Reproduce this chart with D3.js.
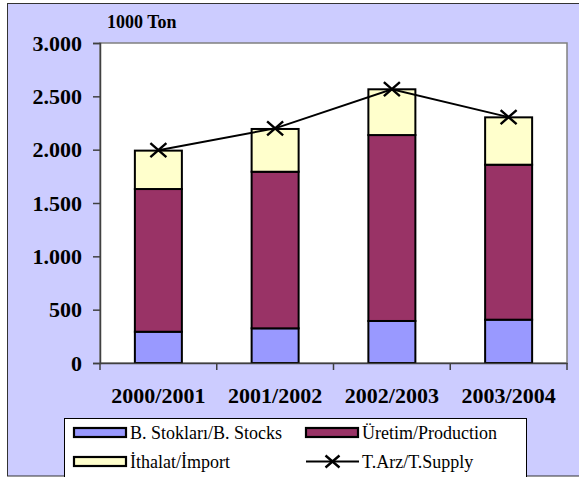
<!DOCTYPE html>
<html>
<head>
<meta charset="utf-8">
<script src="https://cdn.jsdelivr.net/npm/d3@7"></script>
<style>
  body { margin: 0; background: #fff; }
  svg text { font-family: "Liberation Serif", "Times New Roman", serif; }
</style>
</head>
<body>
<div class="canvas"></div>
<script>
const years = ['2000/2001', '2001/2002', '2002/2003', '2003/2004'];
const stocks = [293, 325, 394, 406];
const production = [1338, 1468, 1743, 1453];
const imports = [360, 401, 429, 444];
const supply = [1995, 2200, 2567, 2305];
const yTicks = [0, 500, 1000, 1500, 2000, 2500, 3000];

const seriesNames = ['B. Stokları/B. Stocks', 'Üretim/Production', 'İthalat/İmport'];
const colours = ['#9999ff', '#993366', '#ffffcc'];

const dims = { width: 579, height: 477 };
const plot = { left: 100, right: 567, top: 43, bottom: 363 };
const serif = '"Liberation Serif", "Times New Roman", serif';

const svg = d3.select('.canvas').append('svg')
  .attr('width', dims.width)
  .attr('height', dims.height);

// outer chart area
svg.append('rect')
  .attr('x', 7.5).attr('y', 3.5)
  .attr('width', 580).attr('height', 472.5)
  .attr('fill', '#ccccff')
  .attr('stroke', '#333')
  .attr('stroke-width', 1);

// plot area
svg.append('rect')
  .attr('x', plot.left).attr('y', plot.top)
  .attr('width', plot.right - plot.left).attr('height', plot.bottom - plot.top)
  .attr('fill', '#fff')
  .attr('stroke', '#808080')
  .attr('stroke-width', 1.5);

const xOuter = d3.scaleBand().domain(years).range([plot.left, plot.right]);
const y = d3.scaleLinear().domain([0, 3000]).range([plot.bottom, plot.top]);

// stack the three series
const table = years.map((yr, i) => ({ year: yr, s0: stocks[i], s1: production[i], s2: imports[i] }));
const stack = d3.stack().keys(['s0', 's1', 's2']);
const layers = stack(table);

const layerG = svg.selectAll('g.layer')
  .data(layers)
  .enter().append('g')
  .attr('class', 'layer')
  .attr('fill', (d, i) => colours[i]);

layerG.selectAll('rect')
  .data(d => d)
  .enter().append('rect')
  .attr('x', d => xOuter(d.data.year) + (xOuter.bandwidth() - 47) / 2)
  .attr('width', 47)
  .attr('y', d => y(d[1]))
  .attr('height', d => y(d[0]) - y(d[1]))
  .attr('stroke', '#000')
  .attr('stroke-width', 2);

// y axis
const yAxis = d3.axisLeft(y)
  .tickValues(yTicks)
  .tickSize(7)
  .tickPadding(11)
  .tickFormat(d => d3.format(',')(d).replace(/,/g, '.'));

const yG = svg.append('g')
  .attr('transform', `translate(${plot.left},0)`)
  .call(yAxis);
yG.attr('font-family', null);
yG.select('.domain').attr('stroke', '#404040').attr('stroke-width', 1.5);
yG.selectAll('.tick line').attr('stroke', '#404040').attr('stroke-width', 1.5);
yG.selectAll('text')
  .attr('font-size', 22)
  .attr('font-weight', 'bold')
  .attr('fill', '#000')
  .style('font-family', serif);

// x axis
const xAxis = d3.axisBottom(xOuter).tickSize(0).tickPadding(24);
const xG = svg.append('g')
  .attr('transform', `translate(0,${plot.bottom})`)
  .call(xAxis);
xG.attr('font-family', null);
xG.select('.domain').attr('stroke', '#404040').attr('stroke-width', 1.5);
xG.selectAll('text')
  .attr('font-size', 22)
  .attr('font-weight', 'bold')
  .attr('fill', '#000')
  .style('font-family', serif);

// x tick marks at band edges
const edges = years.map(yr => xOuter(yr)).concat([plot.right]);
svg.selectAll('line.xtick')
  .data(edges)
  .enter().append('line')
  .attr('class', 'xtick')
  .attr('x1', d => d).attr('x2', d => d)
  .attr('y1', plot.bottom).attr('y2', plot.bottom + 7)
  .attr('stroke', '#404040')
  .attr('stroke-width', 1.5);

// supply line
const lineGen = d3.line()
  .x((d, i) => xOuter(years[i]) + xOuter.bandwidth() / 2)
  .y(d => y(d));

svg.append('path')
  .datum(supply)
  .attr('d', lineGen)
  .attr('fill', 'none')
  .attr('stroke', '#000')
  .attr('stroke-width', 2);

const cross = (g, cx, cy, rx, ry) => {
  g.append('path')
    .attr('d', `M${cx - rx},${cy - ry}L${cx + rx},${cy + ry}M${cx - rx},${cy + ry}L${cx + rx},${cy - ry}`)
    .attr('stroke', '#000')
    .attr('stroke-width', 2.4)
    .attr('fill', 'none');
};

supply.forEach((v, i) => {
  cross(svg, xOuter(years[i]) + xOuter.bandwidth() / 2, y(v), 8, 7);
});

// unit label
svg.append('text')
  .attr('x', 107).attr('y', 27.5)
  .attr('font-size', 18)
  .attr('font-weight', 'bold')
  .text('1000 Ton');

// legend
const legend = svg.append('g');
legend.append('rect')
  .attr('x', 64.5).attr('y', 418.5)
  .attr('width', 462).attr('height', 70)
  .attr('fill', '#fff')
  .attr('stroke', '#000')
  .attr('stroke-width', 1);

const legendItems = [
  { name: seriesNames[0], col: 0, row: 0, colour: colours[0] },
  { name: seriesNames[1], col: 1, row: 0, colour: colours[1] },
  { name: seriesNames[2], col: 0, row: 1, colour: colours[2] },
  { name: 'T.Arz/T.Supply', col: 1, row: 1, colour: null }
];
const colX = [74, 306];
const rowY = [432.5, 461.5];

legendItems.forEach(item => {
  const lx = colX[item.col];
  const ly = rowY[item.row];
  if (item.colour) {
    legend.append('rect')
      .attr('x', lx).attr('y', ly - 4.5)
      .attr('width', 52).attr('height', 9)
      .attr('fill', item.colour)
      .attr('stroke', '#000')
      .attr('stroke-width', 2.2);
  } else {
    legend.append('line')
      .attr('x1', lx).attr('x2', lx + 53)
      .attr('y1', ly).attr('y2', ly)
      .attr('stroke', '#000').attr('stroke-width', 2);
    cross(legend, lx + 26.5, ly, 7, 6);
  }
  legend.append('text')
    .attr('x', lx + 56).attr('y', ly + 6)
    .attr('font-size', 18)
    .text(item.name);
});
</script>
</body>
</html>
